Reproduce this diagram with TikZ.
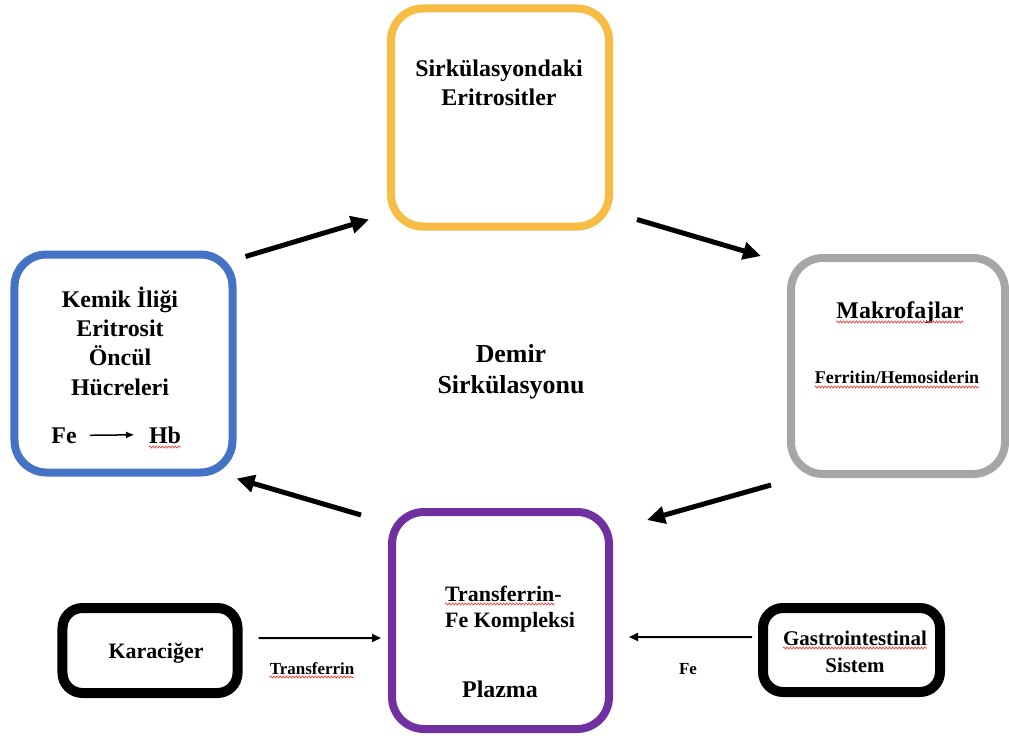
\documentclass[tikz,border=0pt]{standalone}
\usepackage{fontspec}
\setmainfont{Liberation Serif}
\usepackage{tikz}
\usetikzlibrary{positioning,calc,arrows.meta,decorations.pathmorphing}

\definecolor{sirkorange}{RGB}{246,188,68}
\definecolor{kemikblue}{RGB}{68,114,196}
\definecolor{makrogray}{RGB}{166,166,166}
\definecolor{plazmapurple}{RGB}{112,48,160}
\definecolor{spellred}{RGB}{232,64,60}

\tikzset{
  bigbox/.style={draw=#1, line width=8bp, rounded corners=32bp, inner sep=0pt,
    minimum width=218bp, minimum height=218bp},
  smallbox/.style={draw=black, line width=10bp, rounded corners=20bp, inner sep=0pt,
    minimum width=175bp, minimum height=85bp},
  lbl/.style={font=\bfseries\fontsize{24}{29.5}\selectfont, align=center, inner sep=0pt},
  midlbl/.style={lbl, font=\bfseries\fontsize{22}{27}\selectfont},
  tinylbl/.style={lbl, font=\bfseries\fontsize{17}{20}\selectfont},
  cyclearrow/.style={line width=5bp, -{Triangle[length=18bp,width=17bp]}},
  feedarrow/.style={line width=2bp, -{Triangle[length=9bp,width=8bp]}},
  spell/.style={draw=spellred, line width=0.7bp, decorate,
    decoration={snake, amplitude=1bp, segment length=3.2bp}}
}

\begin{document}
\begin{tikzpicture}[x=1bp, y=-1bp]
    \useasboundingbox (0,0) rectangle (1009,736);

    % the four boxes of the cycle
    \node[bigbox=sirkorange] (sirk) at (500,117.5) {};
    \node[bigbox=kemikblue] (kemik) at (123.5,363.5) {};
    \node[bigbox=makrogray, minimum width=214bp, minimum height=216bp] (makro) at (898,366) {};
    \node[bigbox=plazmapurple, minimum width=217bp, minimum height=217bp] (plazma) at (500.5,620.5) {};
    % sources
    \node[smallbox] (karaciger) at (150,650.5) {};
    \node[smallbox, minimum width=177bp, minimum height=84bp] (gis) at (851.5,650) {};

    % texts
    \node[lbl, line width=0pt] (sirktxt) at (499,83) {Sirkülasyondaki\\Eritrositler};
    \node[lbl] (kemiktxt) at (120,341) {Kemik İliği\\Eritrosit\\Öncül\\Hücreleri};
    \node[lbl, anchor=base] (fe) at (64,443) {Fe};
    \node[lbl, anchor=base] (hb) at (165,443) {Hb};
    \node[lbl, font=\bfseries\fontsize{26}{31}\selectfont] (demir) at (511,371.5) {Demir\\Sirkülasyonu};
    \node[lbl, anchor=base] (maktxt) at (900,318) {Makrofajlar};
    \node[tinylbl, font=\bfseries\fontsize{18}{20}\selectfont, anchor=base] (ferritin) at (897,383) {Ferritin/Hemosiderin};
    \node[midlbl, anchor=base west] (tfe1) at (445,601) {Transferrin-};
    \node[midlbl, anchor=base west] (tfe2) at ([yshift=-26bp]tfe1.base west) {Fe Kompleksi};
    \node[lbl, anchor=base] (plazmatxt) at (500,697) {Plazma};
    \node[midlbl, anchor=base] (karatxt) at (156,658) {Karaciğer};
    \node[midlbl, font=\bfseries\fontsize{21}{27}\selectfont, anchor=base] (gis1) at (855,645) {Gastrointestinal};
    \node[midlbl, font=\bfseries\fontsize{21}{27}\selectfont, anchor=base] (gis2) at ([yshift=-27bp]gis1.base) {Sistem};
    \node[tinylbl, anchor=base] (trftxt) at (312,674) {Transferrin};
    \node[tinylbl, anchor=base] (fetxt) at (688,674) {Fe};

    % cycle arrows
    \draw[cyclearrow] ([shift={(9,6)}]kemik.north east) -- ([shift={(-18,-11)}]sirk.south west);
    \draw[cyclearrow] ([shift={(24,-11)}]sirk.south east) -- ([shift={(-26,2)}]makro.north west);
    \draw[cyclearrow] ([shift={(-16,7)}]makro.south west) -- ([shift={(34,12)}]plazma.north east);
    \draw[cyclearrow] ([shift={(-27,7)}]plazma.north west) -- ([shift={(0,2)}]kemik.south east);

    % inflow to plasma
    \draw[feedarrow] ([shift={(16,-12.5)}]karaciger.east) -- ([shift={(-7,17.5)}]plazma.west);
    \draw[feedarrow] ([shift={(-6,-13)}]gis.west) -- ([shift={(16,16.5)}]plazma.east);
    \draw[line width=1.5bp, -{Triangle[length=8bp,width=6bp]}] ([xshift=13bp]fe.east) -- ([xshift=-15bp]hb.west);

    % spell check marks
    \draw[spell] ([yshift=-4bp]hb.base west) -- ([yshift=-4bp]hb.base east);
    \draw[spell] ([yshift=-4bp]maktxt.base west) -- ([yshift=-4bp]maktxt.base east);
    \draw[spell] ([yshift=-4bp]ferritin.base west) -- ([yshift=-4bp]ferritin.base east);
    \draw[spell] ([yshift=-3bp]tfe1.base west) -- ([shift={(-7bp,-3bp)}]tfe1.base east);
    \draw[spell] ([yshift=-3bp]trftxt.base west) -- ([yshift=-3bp]trftxt.base east);
    \draw[spell] ([yshift=-3bp]gis1.base west) -- ([yshift=-3bp]gis1.base east);
\end{tikzpicture}
\end{document}
